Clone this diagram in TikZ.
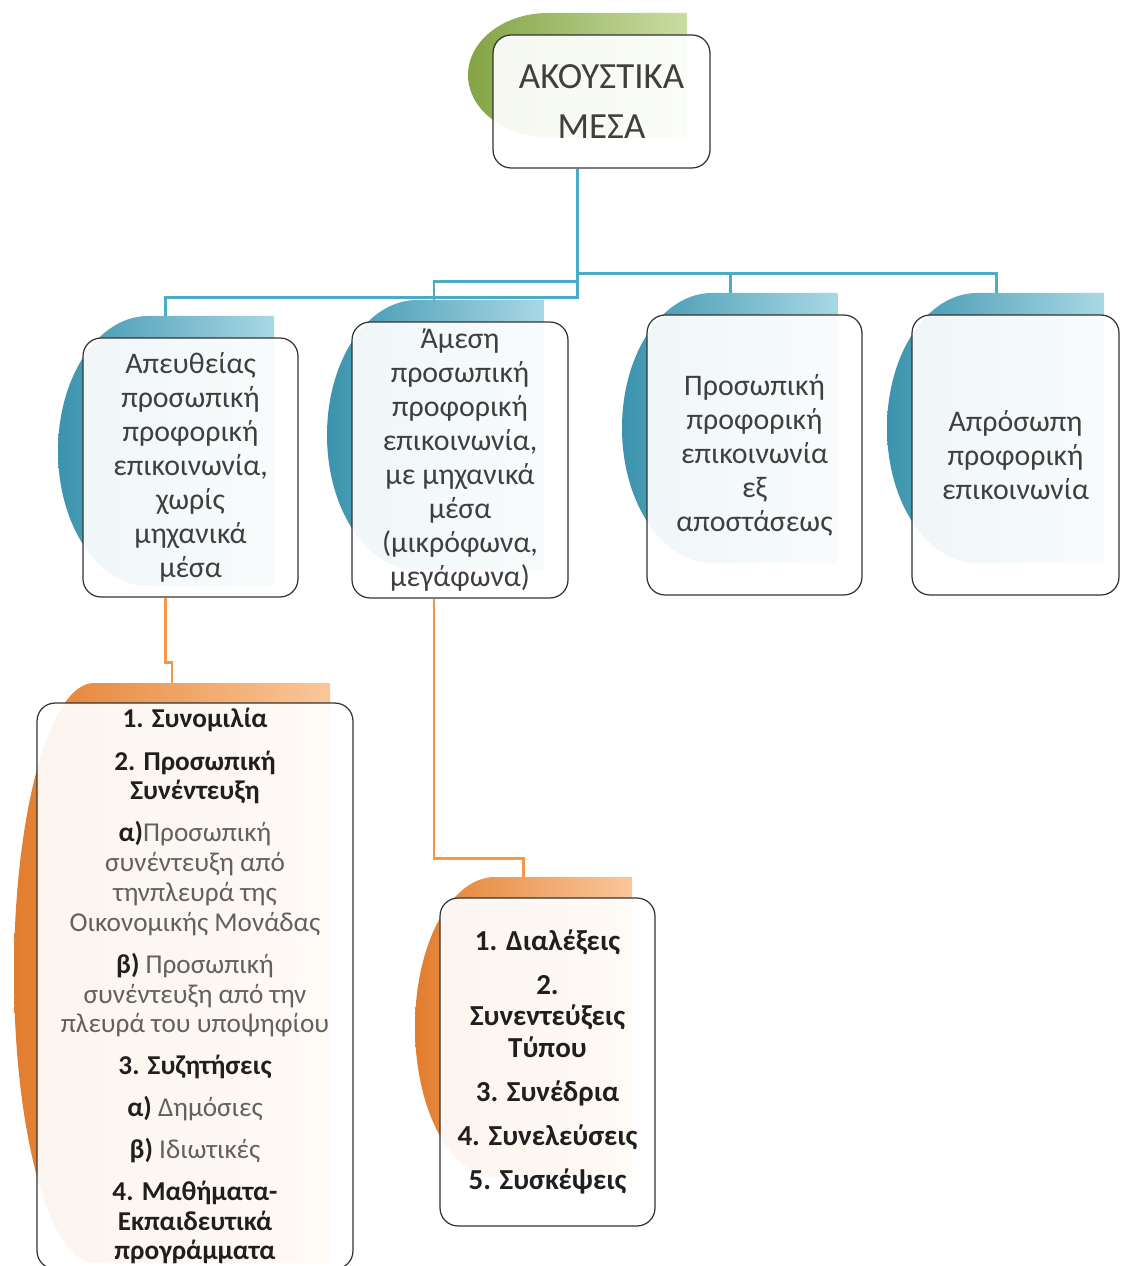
\documentclass[tikz,border=0pt]{standalone}
\usepackage{fontspec}
\setmainfont{Carlito}
\usetikzlibrary{calc}

\definecolor{linkblue}{HTML}{4BACC6}
\definecolor{linkorange}{HTML}{F79646}
\definecolor{bluetab}{HTML}{4BACC6}
\definecolor{bluedark}{HTML}{3A93AD}
\definecolor{bluelight}{HTML}{A9D8E5}
\definecolor{orangetab}{HTML}{F79646}
\definecolor{orangedark}{HTML}{E27D2E}
\definecolor{orangelight}{HTML}{FBC79A}
\definecolor{greentab}{HTML}{9BBB59}
\definecolor{greendark}{HTML}{84A446}
\definecolor{greenlight}{HTML}{CADDA3}
\definecolor{textgray}{HTML}{3F3F3F}

\pgfdeclarelayer{background}
\pgfsetlayers{background,main}

\newcommand{\lead}[1]{\textbf{\textcolor{black!88}{#1}}}

\begin{document}
\begin{tikzpicture}[x=0.02cm,y=-0.02cm,
        box/.style={draw=black!80, line width=0.7pt, rounded corners=0.36cm, fill=white,
            fill opacity=0.92, text opacity=1, align=center, inner sep=0pt, text=textgray},
        bluelink/.style={linkblue, line width=1.6pt},
        orangelink/.style={linkorange, line width=1.4pt},
        headfont/.style={font=\fontsize{21}{28.3}\selectfont},
        midfont/.style={font=\fontsize{17}{19.3}\selectfont},
        listfont/.style={font=\fontsize{15.5}{17}\selectfont}]
        \useasboundingbox (0,0) rectangle (1120,1266);

        %~ tabs behind the boxes
        \shade[left color=greendark, middle color=greentab, right color=greenlight]
            (687,13) -- (548,13) arc[start angle=270, end angle=90, x radius=80, y radius=62] -- (687,137) -- cycle;
        \shade[left color=bluedark, middle color=bluetab, right color=bluelight]
            (274,316) -- (148,316) arc[start angle=270, end angle=90, x radius=90, y radius=135] -- (274,586) -- cycle;
        \shade[left color=bluedark, middle color=bluetab, right color=bluelight]
            (544,300) -- (417,300) arc[start angle=270, end angle=90, x radius=90, y radius=135] -- (544,570) -- cycle;
        \shade[left color=bluedark, middle color=bluetab, right color=bluelight]
            (838,293) -- (712,293) arc[start angle=270, end angle=90, x radius=90, y radius=135] -- (838,563) -- cycle;
        \shade[left color=bluedark, middle color=bluetab, right color=bluelight]
            (1104,293) -- (977,293) arc[start angle=270, end angle=90, x radius=90, y radius=135] -- (1104,563) -- cycle;
        \shade[left color=orangedark, middle color=orangetab, right color=orangelight]
            (330,683) -- (94,683) arc[start angle=270, end angle=90, x radius=80, y radius=290] -- (330,1263) -- cycle;
        \shade[left color=orangedark, middle color=orangetab, right color=orangelight]
            (632,877) -- (495,877) arc[start angle=270, end angle=90, x radius=80, y radius=150] -- (632,1177) -- cycle;

        %~ boxes
        \node[box, headfont, minimum width=4.34cm, minimum height=2.66cm] (akoustika) at (601.5,101.5)
            {ΑΚΟΥΣΤΙΚΑ\\ΜΕΣΑ};
        \node[box, midfont, minimum width=4.3cm, minimum height=5.18cm] (apeutheias) at (190.5,467.5)
            {Απευθείας\\προσωπική\\προφορική\\επικοινωνία,\\χωρίς\\μηχανικά\\μέσα};
        \node[box, midfont, minimum width=4.32cm, minimum height=5.52cm] (amesi) at (460,460)
            {Άμεση\\προσωπική\\προφορική\\επικοινωνία,\\με μηχανικά\\μέσα\\(μικρόφωνα,\\μεγάφωνα)};
        \node[box, midfont, minimum width=4.3cm, minimum height=5.6cm] (exapostaseos) at (754.5,455)
            {Προσωπική\\προφορική\\επικοινωνία\\εξ\\αποστάσεως};
        \node[box, midfont, minimum width=4.14cm, minimum height=5.6cm] (aprosopi) at (1015.5,455)
            {Απρόσωπη\\προφορική\\επικοινωνία};
        \node[box, listfont, text=black!62, minimum width=6.32cm, minimum height=11.32cm] (synomilia) at (195,986)
            {\lead{1. Συνομιλία}\\[7.4pt]
             \lead{2. Προσωπική}\\\lead{Συνέντευξη}\\[6.8pt]
             \lead{α)}Προσωπική\\συνέντευξη από\\τηνπλευρά της\\Οικονομικής Μονάδας\\[6.8pt]
             \lead{β)} Προσωπική\\συνέντευξη από την\\πλευρά του υποψηφίου\\[6.8pt]
             \lead{3. Συζητήσεις}\\[6.8pt]
             \lead{α)} Δημόσιες\\[6.8pt]
             \lead{β)} Ιδιωτικές\\[6.8pt]
             \lead{4. Μαθήματα-}\\\lead{Εκπαιδευτικά}\\\lead{προγράμματα}};
        \node[box, font=\fontsize{16.5}{17.8}\selectfont, minimum width=4.3cm, minimum height=6.56cm] (dialexeis) at (547.5,1062)
            {\lead{1. Διαλέξεις}\\[7.4pt]
             \lead{2.}\\\lead{Συνεντεύξεις}\\\lead{Τύπου}\\[7.4pt]
             \lead{3. Συνέδρια}\\[7.4pt]
             \lead{4. Συνελεύσεις}\\[7.4pt]
             \lead{5. Συσκέψεις}};

        %~ connectors
        \begin{pgfonlayer}{background}
            \coordinate (hub) at ($(akoustika.south)+(-24,0)$);
            \draw[bluelink] (hub) -- ++(0,105) -| ($(aprosopi.north)+(-19,0)$);
            \draw[bluelink] (hub) -- ++(0,105) -| ($(exapostaseos.north)+(-24,0)$);
            \draw[bluelink] (hub) -- ++(0,113) -| ($(amesi.north)+(-26,0)$);
            \draw[bluelink] (hub) -- ++(0,129) -| ($(apeutheias.north)+(-25,0)$);
            \draw[orangelink] ($(apeutheias.south)+(-25,0)$) -- ++(0,65) -| ($(synomilia.north)+(-23,0)$);
            \draw[orangelink] ($(amesi.south)+(-26,0)$) -- ++(0,260) -| ($(dialexeis.north)+(-24,0)$);
        \end{pgfonlayer}
    \end{tikzpicture}
\end{document}
